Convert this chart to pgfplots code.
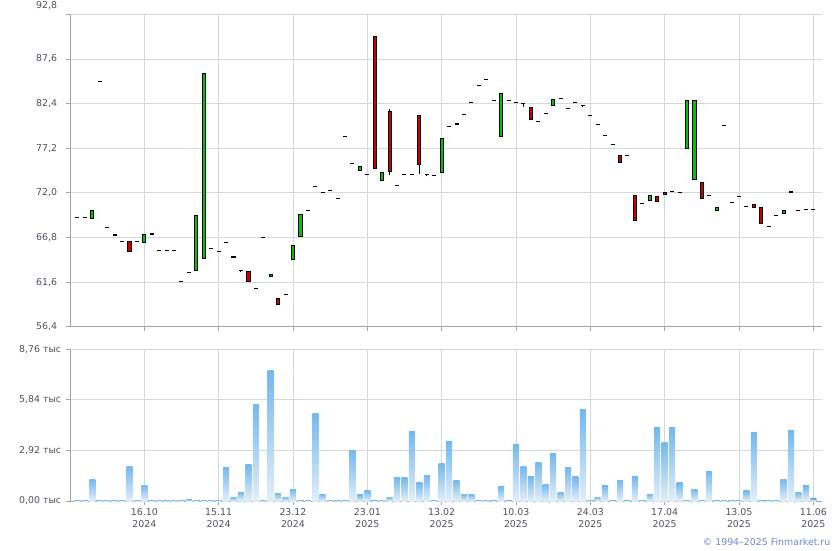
\documentclass[border=0pt]{standalone}
\usepackage{pgfplots}
\pgfplotsset{compat=1.18}
\usepackage{pgfplotstable}
\usepackage{fontspec}
\setmainfont{DejaVu Sans}
\definecolor{gridc}{RGB}{211,216,221}
\definecolor{axc}{RGB}{160,166,174}
\definecolor{tickc}{RGB}{80,80,96}
\definecolor{cgreen}{RGB}{0,196,0}
\definecolor{cred}{RGB}{204,0,0}
\definecolor{vtop}{RGB}{116,184,238}
\definecolor{vbot}{RGB}{226,238,250}
\definecolor{copyc}{RGB}{105,135,210}

% x o h l c
\pgfplotstableread{
x o h l c
0 69.15 69.15 69.15 69.15
1 69.15 69.15 69.15 69.15
2 69.03 69.97 69.03 69.97
3 85.00 85.00 85.00 85.00
4 67.98 67.98 67.98 67.98
5 67.09 67.09 67.09 67.09
6 66.35 66.35 66.35 66.35
7 66.35 66.35 65.15 65.15
8 66.35 66.35 66.35 66.35
9 66.20 67.17 66.20 67.17
10 67.20 67.20 67.20 67.20
11 65.30 65.30 65.30 65.30
12 65.30 65.30 65.30 65.30
13 65.30 65.30 65.30 65.30
14 61.70 61.70 61.70 61.70
15 62.74 62.74 62.74 62.74
16 62.97 69.38 62.97 69.38
17 64.37 85.93 64.37 85.93
18 65.54 65.54 65.54 65.54
19 65.20 65.20 65.20 65.20
20 66.24 66.24 66.24 66.24
21 64.57 64.57 64.47 64.47
22 62.97 62.97 62.83 62.97
23 62.85 62.85 61.68 61.68
24 60.88 60.88 60.74 60.88
25 66.82 66.82 66.82 66.82
26 62.27 62.50 62.27 62.50
27 59.71 59.71 59.01 59.01
28 60.18 60.18 60.18 60.18
29 64.25 65.88 64.25 65.88
30 66.93 69.50 66.93 69.50
31 69.96 69.96 69.96 69.96
32 72.76 72.76 72.76 72.76
33 72.06 72.06 72.06 72.06
34 72.29 72.29 72.29 72.29
35 71.36 71.36 71.36 71.36
36 78.59 78.59 78.59 78.59
37 75.44 75.44 75.44 75.44
38 74.62 75.09 74.62 75.09
39 74.16 74.16 74.16 74.16
40 90.27 90.27 74.86 74.86
41 73.45 74.38 73.45 74.38
42 81.50 81.73 74.12 74.51
43 72.88 72.88 72.88 72.88
44 74.16 74.16 74.16 74.16
45 74.16 74.16 74.16 74.16
46 81.03 81.03 74.24 75.32
47 74.12 74.12 73.98 74.12
48 74.04 74.04 74.04 74.04
49 74.38 78.35 74.38 78.35
50 79.75 79.75 79.75 79.75
51 80.02 80.02 80.02 80.02
52 81.15 81.15 81.15 81.15
53 82.55 82.55 82.55 82.55
54 84.53 84.53 84.53 84.53
55 85.23 85.23 85.23 85.23
56 82.78 82.78 82.78 82.78
57 78.58 83.60 78.58 83.60
58 82.78 82.78 82.78 82.78
59 82.55 82.55 82.55 82.55
60 82.43 82.43 81.97 82.43
61 81.97 81.97 80.57 80.57
62 80.33 80.33 80.33 80.33
63 81.27 81.27 81.27 81.27
64 82.20 82.86 82.20 82.86
65 83.01 83.01 83.01 83.01
66 81.85 81.85 81.85 81.85
67 82.55 82.55 82.55 82.55
68 82.20 82.20 81.95 82.20
69 81.03 81.03 81.03 81.03
70 79.98 79.98 79.98 79.98
71 78.70 78.70 78.70 78.70
72 77.65 77.65 77.65 77.65
73 76.33 76.33 75.55 75.55
74 76.37 76.37 76.37 76.37
75 71.71 71.71 68.80 68.80
76 70.78 70.78 70.78 70.78
77 71.13 71.71 71.13 71.71
78 71.60 71.60 71.01 71.01
79 72.06 72.06 71.83 71.83
80 72.16 72.16 72.04 72.16
81 72.06 72.06 72.06 72.06
82 77.19 82.74 77.19 82.74
83 73.57 82.74 73.57 82.74
84 73.22 73.22 71.36 71.36
85 71.71 71.71 71.71 71.71
86 69.97 70.32 69.97 70.32
87 79.87 79.87 79.87 79.87
88 70.89 70.89 70.89 70.89
89 71.60 71.60 71.60 71.60
90 70.43 70.43 70.43 70.43
91 70.66 70.66 70.32 70.32
92 70.32 70.32 68.45 68.45
93 68.10 68.10 67.97 68.10
94 69.38 69.38 69.38 69.38
95 69.62 69.97 69.62 69.97
96 72.17 72.17 72.09 72.09
97 69.97 69.97 69.97 69.97
98 70.08 70.08 70.08 70.08
99 70.08 70.08 69.97 70.08
}\candles

\pgfplotstableread{
x v
0 0.06
1 0.06
2 1.27
3 0.06
4 0.06
5 0.06
6 0.06
7 2.02
8 0.06
9 0.92
10 0.06
11 0.06
12 0.06
13 0.06
14 0.06
15 0.10
16 0.06
17 0.06
18 0.06
19 0.06
20 1.96
21 0.23
22 0.52
23 2.08
24 5.60
25 0.06
26 7.51
27 0.46
28 0.23
29 0.69
30 0.06
31 0.06
32 5.08
33 0.40
34 0.06
35 0.06
36 0.06
37 2.89
38 0.35
39 0.58
40 0.06
41 0.06
42 0.23
43 1.33
44 1.33
45 3.99
46 1.04
47 1.50
48 0.06
49 2.14
50 3.41
51 1.21
52 0.40
53 0.40
54 0.06
55 0.06
56 0.06
57 0.81
58 0.06
59 3.29
60 2.02
61 1.39
62 2.25
63 0.98
64 2.77
65 0.52
66 1.96
67 1.39
68 5.26
69 0.06
70 0.23
71 0.87
72 0.06
73 1.21
74 0.06
75 1.39
76 0.06
77 0.40
78 4.22
79 3.35
80 4.22
81 1.04
82 0.06
83 0.69
84 0.06
85 1.73
86 0.06
87 0.06
88 0.06
89 0.06
90 0.58
91 3.93
92 0.06
93 0.06
94 0.06
95 1.27
96 4.10
97 0.52
98 0.87
99 0.12
}\volumes

\newcommand\yk{8.5824}
\newcommand\vk{17.317}
\pgfdeclareplotmark{candle}{%
  \pgfmathsetmacro\candBody{(\candC-\candO)*\yk}%
  \pgfmathsetmacro\candHi{(\candH-\candO)*\yk}%
  \pgfmathsetmacro\candLo{(\candL-\candO)*\yk}%
  \pgfsetstrokecolor{black}%
  \pgfsetlinewidth{0.9pt}%
  \pgfpathmoveto{\pgfqpoint{0pt}{\candLo pt}}%
  \pgfpathlineto{\pgfqpoint{0pt}{\candHi pt}}%
  \pgfusepathqstroke
  \pgfmathtruncatemacro\candDir{(\candC>\candO) ? 1 : ((\candC<\candO) ? 2 : 0)}%
  \ifcase\candDir
    \pgfsetlinewidth{1.1pt}%
    \pgfpathmoveto{\pgfqpoint{-2pt}{0pt}}%
    \pgfpathlineto{\pgfqpoint{2pt}{0pt}}%
    \pgfusepathqstroke
  \or
    \pgfsetlinewidth{0.9pt}%
    \pgfsetfillcolor{cgreen}%
    \pgfpathrectangle{\pgfqpoint{-1.6pt}{0pt}}{\pgfqpoint{3.2pt}{\candBody pt}}%
    \pgfusepathqfillstroke
  \or
    \pgfsetlinewidth{0.9pt}%
    \pgfsetfillcolor{cred}%
    \pgfpathrectangle{\pgfqpoint{-1.6pt}{0pt}}{\pgfqpoint{3.2pt}{\candBody pt}}%
    \pgfusepathqfillstroke
  \fi
}
\pgfdeclareverticalshading{volshade}{100bp}{color(0bp)=(vbot); color(25bp)=(vbot); color(75bp)=(vtop); color(100bp)=(vtop)}
\pgfdeclareplotmark{volbar}{%
  \pgfmathsetmacro\volH{\volV*\vk}%
  \pgfpathrectangle{\pgfqpoint{-3pt}{0pt}}{\pgfqpoint{6pt}{\volH pt}}%
  \pgfshadepath{volshade}{0}%
  \pgfusepath{discard}%
}

\pgfplotsset{
  finstyle/.style={
    scale only axis, anchor=south west,
    width=751.4pt,
    xmin=-0.955, xmax=100.13,
    axis lines*=left,
    axis line style={draw=axc, line width=0.9pt},
    grid=major,
    grid style={draw=gridc, line width=0.8pt},
    xtick={9,19,...,99},
    tick align=outside,
    major tick length=4pt,
    tick style={draw=axc, line width=0.8pt},
    tick label style={font=\fontsize{9.4}{12}\selectfont, text=tickc},
    clip=false,
  }
}

\begin{document}
\begin{tikzpicture}
\useasboundingbox (0,0) rectangle (840pt,550pt);
\begin{axis}[finstyle,
  at={(70.3pt,223.3pt)},
  height=312.4pt,
  ymin=56.4, ymax=92.8,
  ytick={56.4,61.6,66.8,72,77.2,82.4,87.6,92.8},
  yticklabels={{56,4},{61,6},{66,8},{72,0},{77,2},{82,4},{87,6},{\raisebox{17.6pt}{92,8}}},
  xticklabels={},
  yticklabel style={anchor=east, inner sep=0pt, xshift=-9pt},
]
\addplot[only marks, mark=candle,
  visualization depends on={\thisrow{o} \as \candO},
  visualization depends on={\thisrow{h} \as \candH},
  visualization depends on={\thisrow{l} \as \candL},
  visualization depends on={\thisrow{c} \as \candC},
] table[x=x, y=o] {\candles};
\end{axis}
\begin{axis}[finstyle,
  at={(70.3pt,49pt)},
  height=151.7pt,
  ymin=0, ymax=8.76,
  ytick={0,2.92,5.84,8.76},
  yticklabels={{0,00 тыс},{2,92 тыс},{5,84 тыс},{8,76 тыс}},
  xticklabels={{16.10\\2024},{15.11\\2024},{23.12\\2024},{23.01\\2025},{13.02\\2025},{10.03\\2025},{24.03\\2025},{17.04\\2025},{13.05\\2025},{11.06\\2025}},
  xticklabel style={align=center, anchor=north, inner sep=0pt, yshift=-3pt},
  yticklabel style={anchor=east, inner sep=0pt, xshift=-5pt},
]
\addplot[only marks, mark=volbar,
  visualization depends on={\thisrow{v} \as \volV},
] table[x=x, y expr=0] {\volumes};
\end{axis}
\node[anchor=east, inner sep=0pt, text=copyc, font=\fontsize{9.4}{12}\selectfont] at (830.5pt,8pt) {© 1994–2025 Finmarket.ru};
\end{tikzpicture}
\end{document}
